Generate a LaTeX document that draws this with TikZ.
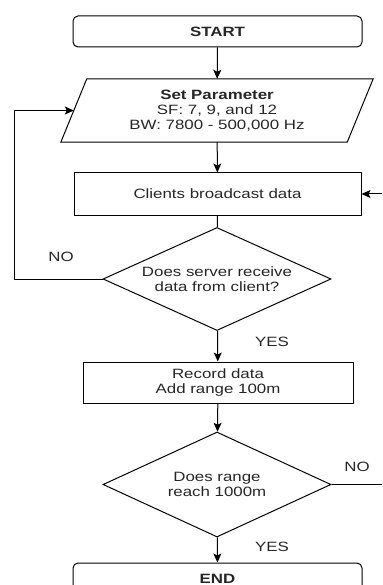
\documentclass[tikz,border=0pt]{standalone}
\usepackage{fontspec}
\setmainfont[FakeStretch=1.25]{Liberation Sans}
\usetikzlibrary{shapes.geometric,arrows.meta}

\tikzset{
  flow/.style={line width=1pt, draw=black},
  txt/.style={font=\fontsize{13.5}{15}\selectfont, text=black!85, align=center, inner sep=0pt},
  termbox/.style={flow, txt, rounded corners=5pt, minimum width=289pt, minimum height=31pt},
  procbox/.style={flow, txt, rectangle, minimum height=42pt},
  decision/.style={flow, diamond, inner sep=0pt, minimum width=228pt, minimum height=103pt},
  ioframe/.style={txt, rectangle, minimum width=286pt, minimum height=63pt},
  arr/.style={flow, -{Stealth[length=9pt, width=8pt, inset=2pt]}},
  lbl/.style={txt}
}

\begin{document}
\begin{tikzpicture}[x=1pt, y=-1pt]
  \useasboundingbox (0,0) rectangle (382,585);
  \clip (0,0) rectangle (382,585);

  % terminals and process steps
  \node[termbox] (start) at (217.5,31.5) {\textbf{START}};
  \node[ioframe] (param) at (217,110.5)
    {\textbf{Set Parameter}\\SF: 7, 9, and 12\\BW: 7800 - 500,000 Hz};
  \draw[flow] ([xshift=13pt]param.north west) -- ([xshift=13pt]param.north east)
    -- ([xshift=-13pt]param.south east) -- ([xshift=-13pt]param.south west) -- cycle;
  \node[procbox, minimum width=287pt] (clients) at (217.5,194) {Clients broadcast data};
  \node[decision, label={[txt]center:Does server receive\\data from client?}] (d1) at (217,279) {};
  \node[procbox, minimum width=270pt, minimum height=41pt] (record) at (218,382.5)
    {Record data\\Add range 100m};
  \node[decision, minimum height=105pt, label={[txt]center:Does range\\reach 1000m}] (d2) at (217,484.5) {};
  \node[termbox] (end) at (217.5,578.5) {\textbf{END}};

  % free ends at the right margin
  \coordinate (rin) at (382,194);
  \coordinate (rout) at (382,484.5);

  % main flow
  \draw[arr] (start) -- (param);
  \draw[arr] (param) -- (clients);
  \draw[flow] (clients) -- (d1);
  \draw[arr] (d1) -- (record);
  \draw[arr] (record) -- (d2);
  \draw[arr] (d2) -- (end);

  % loops
  \draw[arr] (d1.west) -- ++(-88,0) |- (param.west);
  \draw[arr] (rin) -- (clients.east);
  \draw[flow] (d2.east) -- (rout);

  % branch labels
  \node[lbl] (no1) at (61,257) {NO};
  \node[lbl] (yes1) at (272,342) {YES};
  \node[lbl] (no2) at (357,467) {NO};
  \node[lbl] (yes2) at (272,547) {YES};
\end{tikzpicture}
\end{document}
